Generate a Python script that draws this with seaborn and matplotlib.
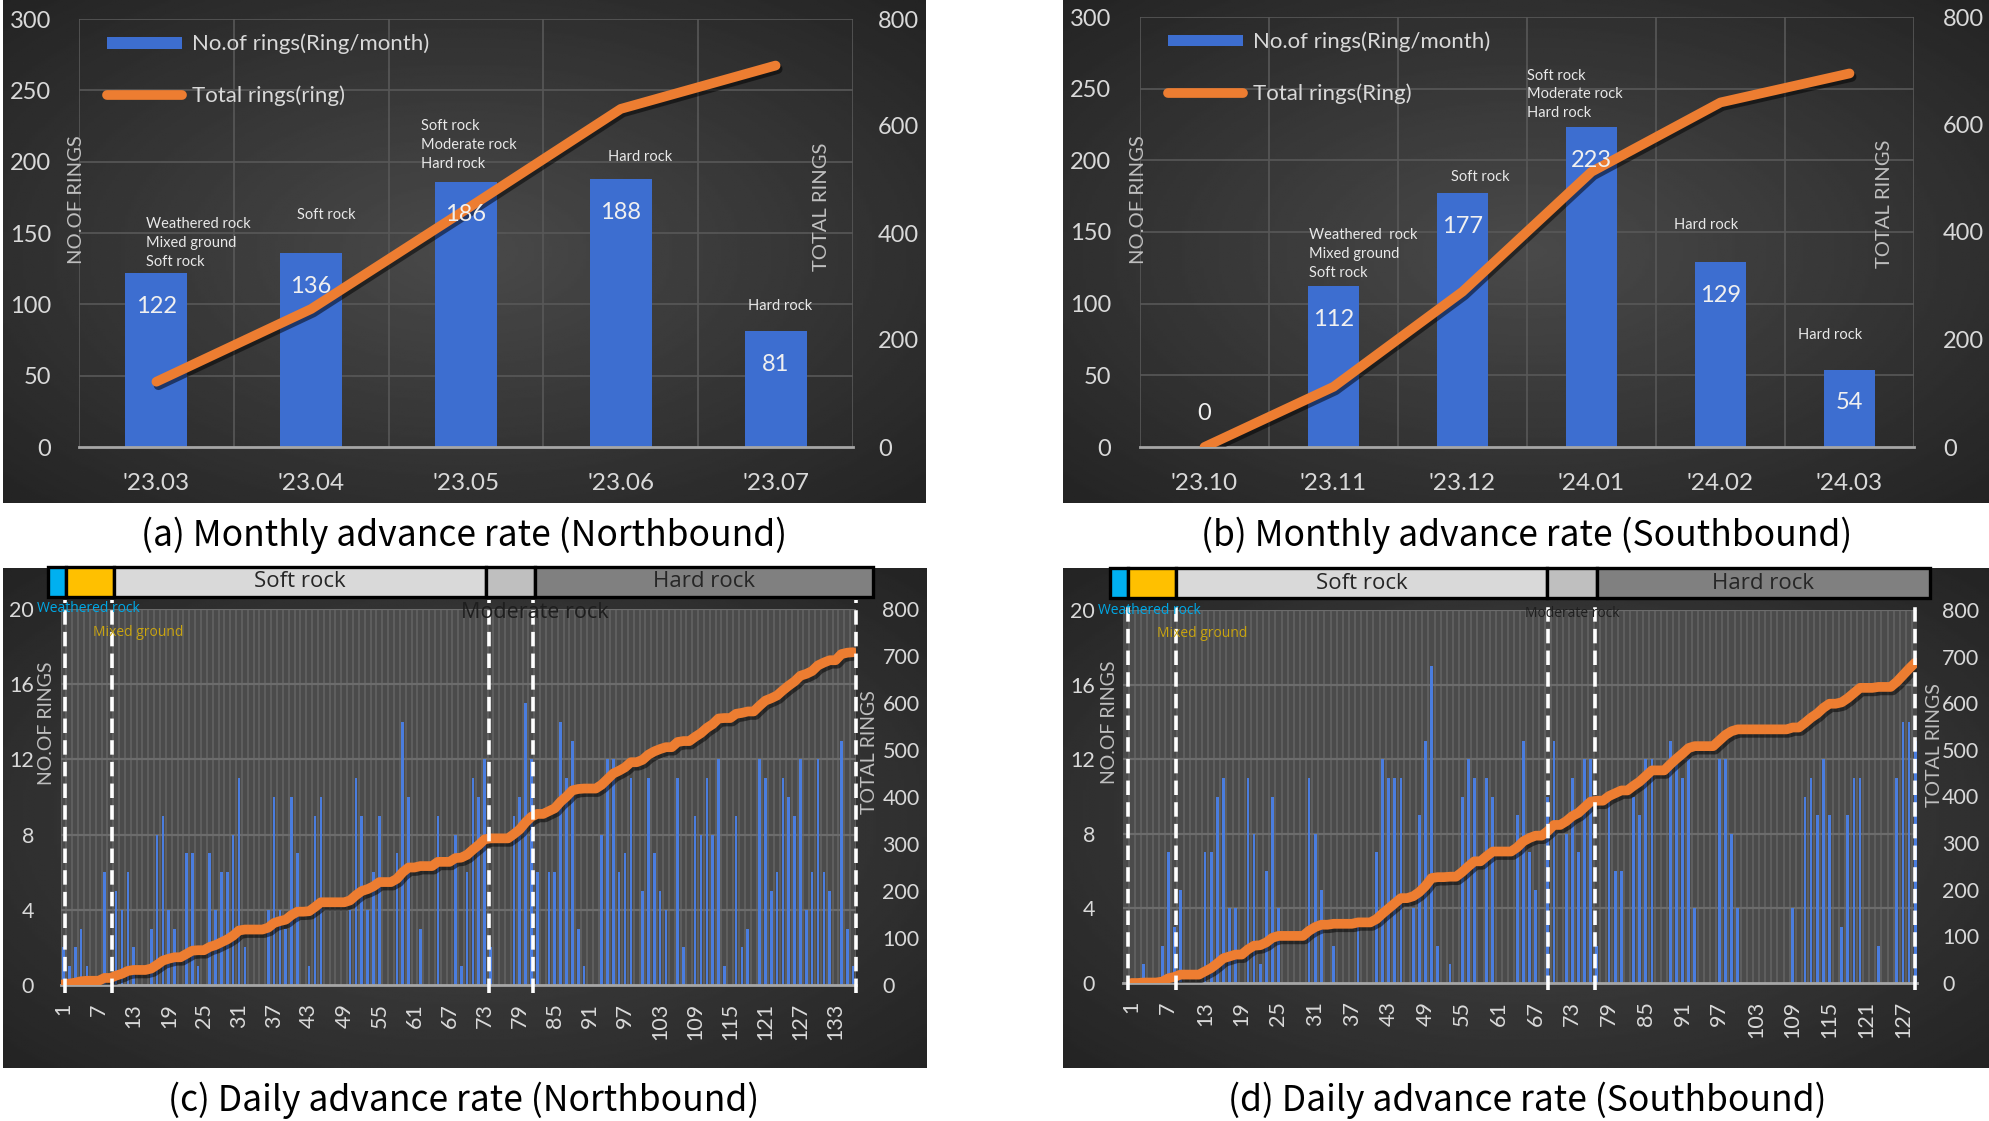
import numpy as np
import matplotlib
matplotlib.use("Agg")
import matplotlib.pyplot as plt
from matplotlib import patheffects as pe
from matplotlib import transforms
from matplotlib.patches import Patch, Rectangle
from matplotlib.lines import Line2D
import seaborn as sns

# ---- data -------------------------------------------------------------
nb_months = ["'23.03", "'23.04", "'23.05", "'23.06", "'23.07"]
nb_monthly = [122, 136, 186, 188, 81]
nb_geology = ["Weathered rock\nMixed ground\nSoft rock", "Soft rock",
              "Soft rock\nModerate rock\nHard rock", "Hard rock", "Hard rock"]

sb_months = ["'23.10", "'23.11", "'23.12", "'24.01", "'24.02", "'24.03"]
sb_monthly = [0, 112, 177, 223, 129, 54]
sb_geology = ["", "Weathered  rock\nMixed ground\nSoft rock", "Soft rock",
              "Soft rock\nModerate rock\nHard rock", "Hard rock", "Hard rock"]

# daily advance, days with zero rings are left out
nb_n_days = 136
nb_day = [1, 2, 3, 4, 5, 8, 10, 11, 12, 13, 16, 17, 18, 19, 20, 22, 23, 24, 26, 27,
          28, 29, 30, 31, 32, 36, 37, 38, 39, 40, 41, 43, 44, 45, 50, 51, 52, 53, 54,
          55, 58, 59, 60, 62, 65, 68, 69, 70, 71, 72, 73, 74, 78, 79, 80, 81, 82, 84,
          85, 86, 87, 88, 89, 90, 93, 94, 95, 96, 97, 98, 100, 101, 102, 103, 104,
          106, 107, 109, 110, 111, 112, 113, 114, 116, 117, 118, 120, 121, 122, 123,
          124, 125, 126, 127, 128, 129, 130, 131, 132, 134, 135, 136]
nb_ring = [2, 1, 2, 3, 1, 6, 5, 4, 6, 2, 3, 8, 9, 4, 3, 7, 7, 1, 7, 4,
           6, 6, 8, 11, 2, 4, 10, 4, 3, 10, 7, 1, 9, 10, 4, 11, 9, 4, 6,
           9, 7, 14, 10, 3, 9, 8, 1, 6, 11, 10, 12, 2, 9, 10, 15, 12, 6, 6,
           6, 14, 11, 13, 3, 1, 8, 12, 12, 6, 7, 11, 5, 11, 7, 5, 4,
           11, 2, 9, 8, 11, 8, 12, 1, 9, 2, 3, 12, 11, 5, 6,
           11, 10, 9, 12, 4, 6, 12, 6, 5, 13, 3, 1]

sb_n_days = 129
sb_day = [3, 6, 7, 8, 9, 13, 14, 15, 16, 17, 18, 20, 21, 22, 23, 24, 25, 30, 31, 32,
          34, 38, 41, 42, 43, 44, 45, 47, 48, 49, 50, 51, 53, 55, 56, 57, 59, 60, 64,
          65, 66, 67, 69, 70, 72, 73, 74, 75, 76, 77, 79, 80, 81, 83, 84, 85, 86, 89,
          90, 91, 92, 93, 97, 98, 99, 100, 109, 111, 112, 113, 114, 115, 117, 118,
          119, 120, 123, 126, 127, 128, 129]
sb_ring = [1, 2, 7, 3, 5, 7, 7, 10, 11, 4, 4, 11, 8, 1, 6, 10, 4, 11, 8, 5,
           2, 3, 7, 12, 11, 11, 11, 4, 9, 13, 17, 2, 1, 10, 12, 11, 11, 10, 9,
           13, 7, 5, 10, 13, 8, 11, 7, 12, 12, 2, 10, 6, 6, 10, 9, 12, 12, 13,
           12, 11, 12, 4, 12, 12, 8, 4, 4, 10, 11, 9, 12, 9, 3, 9,
           11, 11, 2, 11, 14, 14, 13]

# geology zones along the drive (day units) and the boundary lines
zone_names = ["Weathered rock", "Mixed ground", "Soft rock", "Moderate rock", "Hard rock"]
nb_zone_edges = [-1.65, 1.35, 9.55, 73.25, 81.65, 139.4]
nb_breaks = [1.2, 9.3, 73.7, 81.3, 136.5]
sb_zone_edges = [-2.6, 0.4, 8.2, 68.9, 77.0, 131.4]
sb_breaks = [0.4, 8.2, 69.1, 76.7, 129.0]

# ---- style ------------------------------------------------------------
W, H = 1990, 1121
BAR = "#3d6ed0"
DBAR = "#4a7ddf"
ORANGE = "#ed7d31"
GRID = "#585858"
TICK = "#d9d9d9"
zone_colors = ["#00b0f0", "#ffc000", "#d9d9d9", "#bfbfbf", "#808080"]

sns.set_theme(style="dark")
plt.rcParams["font.family"] = ["Lato", "DejaVu Sans"]

shadow = [pe.SimpleLineShadow(offset=(1.5, -2.5), shadow_color="black", alpha=0.5),
          pe.Normal()]

fig = plt.figure(figsize=(W / 100, H / 100), dpi=100, facecolor="white")


def fr(x0, y0, x1, y1):
    return [x0 / W, 1 - y1 / H, (x1 - x0) / W, (y1 - y0) / H]


def panel_bg(box):
    bg = fig.add_axes(fr(*box), zorder=0)
    yy, xx = np.mgrid[-1:1:300j, -1:1:300j]
    r = np.sqrt(xx ** 2 + yy ** 2) / np.sqrt(2)
    bg.imshow(0.29 - 0.15 * r, cmap="gray", vmin=0, vmax=1, aspect="auto")
    bg.axis("off")


def strip_axes(ax, ax2):
    for a in (ax, ax2):
        for s in ("top", "left", "right", "bottom"):
            a.spines[s].set_visible(False)
        a.grid(False)
    ax.spines["bottom"].set_visible(True)
    ax.spines["bottom"].set_color("#a6a6a6")
    ax.spines["bottom"].set_linewidth(2)


def axis_titles(ylab_xy, tlab_xy, size):
    fig.text(ylab_xy[0] / W, 1 - ylab_xy[1] / H, "NO.OF RINGS", rotation=90,
             ha="center", va="center", color="#bfbfbf", fontsize=size, zorder=5)
    fig.text(tlab_xy[0] / W, 1 - tlab_xy[1] / H, "TOTAL RINGS", rotation=90,
             ha="center", va="center", color="#bfbfbf", fontsize=size, zorder=5)


def monthly_panel(box, axbox, months, counts, notes, note_dx, note_dy,
                  line_label, lpad, rpad, ylab_xy, tlab_xy):
    panel_bg(box)
    ax = fig.add_axes(fr(*axbox), zorder=2)
    ax.set_facecolor("none")
    pos = np.arange(len(months))
    sns.barplot(x=pos, y=counts, native_scale=True, color=BAR, width=0.4,
                saturation=1, errorbar=None, linewidth=0, ax=ax)
    ax2 = ax.twinx()
    total = np.cumsum(counts)
    sns.lineplot(x=pos, y=total, ax=ax2, color=ORANGE, linewidth=7,
                 solid_capstyle="round", path_effects=shadow)
    strip_axes(ax, ax2)
    ax.set_axisbelow(True)
    for y in range(50, 301, 50):
        ax.axhline(y, color=GRID, lw=1.2, zorder=0)
    for b in np.arange(len(months) + 1) - 0.5:
        ax.axvline(b, color=GRID, lw=1.2, zorder=0)

    # labels go on the twin axes so they sit above the line
    for i, v in enumerate(counts):
        off = -24 if v > 0 else 24
        ax2.annotate(str(v), (i, v), xycoords=ax.transData, xytext=(0, off),
                     textcoords="offset points", ha="center", va="center",
                     color="#f0f0f0", fontsize=17, zorder=10)
        if notes[i]:
            ax2.annotate(notes[i], (i + note_dx[i], v), xycoords=ax.transData,
                         xytext=(0, note_dy[i]), textcoords="offset points",
                         ha="left", va="bottom", color="#e8e8e8", fontsize=10.5,
                         linespacing=1.45, zorder=10)

    ax.set_xlim(-0.5, len(months) - 0.5)
    ax.set_ylim(0, 300)
    ax.set_yticks(range(0, 301, 50))
    ax.set_xticks(pos)
    ax.set_xticklabels(months)
    ax2.set_ylim(0, 800)
    ax2.set_yticks(range(0, 801, 200))
    ax.set_xlabel("")
    ax.set_ylabel("")
    ax2.set_ylabel("")
    ax.tick_params(axis="y", length=0, pad=lpad, labelcolor=TICK, labelsize=17)
    ax.tick_params(axis="x", length=0, pad=19, labelcolor=TICK, labelsize=17.5)
    ax2.tick_params(axis="y", length=0, pad=rpad, labelcolor=TICK, labelsize=17)

    handles = [Patch(facecolor=BAR, edgecolor="none"),
               Line2D([], [], color=ORANGE, lw=7)]
    ax2.legend(handles, ["No.of rings(Ring/month)", line_label], loc="upper left",
               bbox_to_anchor=(0.01, 1.012), frameon=False, labelcolor=TICK,
               fontsize=16, handlelength=3.4, handleheight=0.45,
               labelspacing=1.4, handletextpad=0.45)

    axis_titles(ylab_xy, tlab_xy, 14.5)


def daily_panel(box, axbox, n_days, day, ring, xlim, edges, breaks, lpad, rpad,
                ylab_xy, tlab_xy, weathered_x, mixed_x, moderate_x, moderate_size):
    panel_bg(box)
    ax = fig.add_axes(fr(*axbox), zorder=2)
    ax.set_facecolor("#4b4b4b")
    days = np.arange(1, n_days + 1)
    rings = np.zeros(n_days)
    rings[np.array(day) - 1] = ring

    for b in np.arange(np.floor(xlim[0]), xlim[1] + 1) + 0.5:
        ax.axvline(b, color="#5f5f5f", lw=1.4, zorder=0)
    for y in range(4, 21, 4):
        ax.axhline(y, color="#6c6c6c", lw=1.6, zorder=0.5)
    sns.barplot(x=days, y=rings, native_scale=True, color=DBAR, width=0.45,
                saturation=1, errorbar=None, linewidth=0, ax=ax)

    ax2 = ax.twinx()
    sns.lineplot(x=days, y=np.cumsum(rings), ax=ax2, color=ORANGE, linewidth=7,
                 solid_capstyle="round", solid_joinstyle="round", path_effects=shadow)
    strip_axes(ax, ax2)

    trans = transforms.blended_transform_factory(ax2.transData, ax2.transAxes)
    for b in breaks:
        ax2.plot([b, b], [-0.02, 1.025], transform=trans, color="white", lw=2.6,
                 ls=(0, (4, 2)), clip_on=False, zorder=5)
    for k in range(len(zone_names)):
        ax2.add_patch(Rectangle((edges[k], 1.032), edges[k + 1] - edges[k], 0.08,
                                transform=trans, facecolor=zone_colors[k],
                                edgecolor="black", lw=2.4, clip_on=False, zorder=6))
    for k in (2, 4):
        ax2.text((edges[k] + edges[k + 1]) / 2, 1.072, zone_names[k], transform=trans,
                 ha="center", va="center", fontsize=16, color="#262626",
                 family="Open Sans", zorder=7)
    ax2.text(weathered_x, 1.0, zone_names[0], transform=trans, ha="left", va="center",
             fontsize=10, color="#00a8e6", family="Open Sans", zorder=7, clip_on=False)
    ax2.text(mixed_x, 0.937, zone_names[1], transform=trans, ha="left", va="center",
             fontsize=10, color="#c9a40f", family="Open Sans", zorder=7)
    ax2.text(moderate_x, 0.99, zone_names[3], transform=trans, ha="center", va="center",
             fontsize=moderate_size, color="#1e1e1e", family="Open Sans", zorder=7)

    ax.set_xlim(*xlim)
    ax.set_ylim(0, 20)
    ax.set_yticks(range(0, 21, 4))
    ticks = np.arange(1, n_days + 1, 6)
    ax.set_xticks(ticks)
    ax.set_xticklabels([str(t) for t in ticks], rotation=90)
    ax2.set_ylim(0, 800)
    ax2.set_yticks(range(0, 801, 100))
    ax.set_xlabel("")
    ax.set_ylabel("")
    ax2.set_ylabel("")
    ax.tick_params(axis="y", length=0, pad=lpad, labelcolor=TICK, labelsize=15.5)
    ax.tick_params(axis="x", length=0, pad=13, labelcolor=TICK, labelsize=15.5)
    ax2.tick_params(axis="y", length=0, pad=rpad, labelcolor=TICK, labelsize=15.5)

    axis_titles(ylab_xy, tlab_xy, 14)


# (a) monthly, northbound
monthly_panel((3, 0, 926, 503), (79, 19, 853, 447), nb_months, nb_monthly, nb_geology,
              [-0.07, -0.09, -0.29, -0.08, -0.18], [3, 22, 8, 11, 13],
              "Total rings(ring)", 20, 18, (76, 200), (822, 207))

# (b) monthly, southbound
monthly_panel((1063, 0, 1990, 503), (1140, 17, 1914, 447), sb_months, sb_monthly,
              sb_geology, [0, -0.19, -0.09, -0.5, -0.36, -0.4], [0, 5, 7, 5, 22, 20],
              "Total rings(Ring)", 21, 21, (1138, 200), (1885, 204))

# (c) daily, northbound
daily_panel((3, 568, 927, 1068), (60.6, 609, 856, 985), nb_n_days, nb_day, nb_ring,
            (0.5, 136.5), nb_zone_edges, nb_breaks, 19, 19, (47, 723), (870, 752),
            -3.5, 6.0, 81.6, 15.5)

# (d) daily, southbound
daily_panel((1063, 568, 1990, 1068), (1123, 610, 1917, 983), sb_n_days, sb_day, sb_ring,
            (-0.4, 129.3), sb_zone_edges, sb_breaks, 20, 18, (1110, 722), (1935, 745),
            -4.5, 5.1, 73.0, 10)

captions = ["(a) Monthly advance rate (Northbound)", "(b) Monthly advance rate (Southbound)",
            "(c) Daily advance rate (Northbound)", "(d) Daily advance rate (Southbound)"]
for txt, (cx, cy) in zip(captions, [(464, 535), (1527, 535), (464, 1100), (1527, 1100)]):
    fig.text(cx / W, 1 - cy / H, txt, ha="center", va="center", fontsize=25.5,
             color="black", family=["Noto Sans CJK KR", "DejaVu Sans"])

fig.savefig("out.png", dpi=100, facecolor="white")
